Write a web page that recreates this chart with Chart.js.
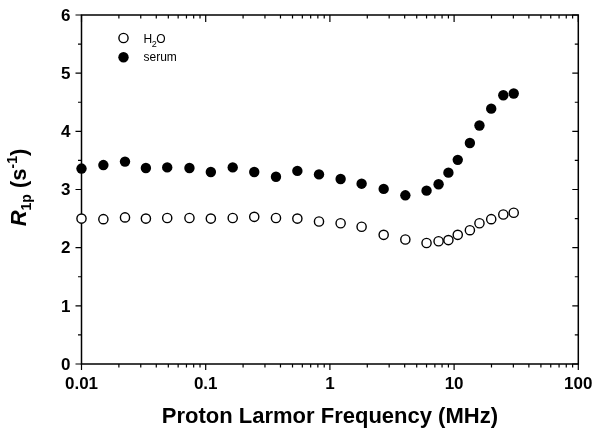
<!DOCTYPE html>
<html>
<head>
<meta charset="utf-8">
<script src="https://cdn.jsdelivr.net/npm/chart.js@4.4.1/dist/chart.umd.min.js"></script>
<style>
html,body{margin:0;padding:0;background:#fff;}
#wrap{width:602px;height:438px;position:relative;}
canvas{display:block;}
</style>
</head>
<body>
<div id="wrap"><canvas id="c" width="602" height="438"></canvas></div>
<script>
// ---- data ----
const frequencyMHz = [0.01, 0.015, 0.0224, 0.033, 0.049, 0.074, 0.11, 0.165, 0.246, 0.368, 0.547, 0.817, 1.22, 1.80, 2.71, 4.05, 6.0, 7.5, 9.0, 10.7, 13.4, 16.0, 19.9, 24.9, 30.2];
const h2oR1p   = [2.50, 2.49, 2.52, 2.50, 2.51, 2.51, 2.50, 2.51, 2.53, 2.51, 2.50, 2.45, 2.42, 2.36, 2.22, 2.14, 2.08, 2.11, 2.13, 2.22, 2.30, 2.42, 2.49, 2.57, 2.60];
const serumR1p = [3.36, 3.42, 3.48, 3.37, 3.38, 3.37, 3.30, 3.38, 3.30, 3.22, 3.32, 3.26, 3.18, 3.10, 3.01, 2.90, 2.98, 3.09, 3.29, 3.51, 3.80, 4.10, 4.39, 4.62, 4.65];

const xMajorTicks = [0.01, 0.1, 1, 10, 100];
const xTickLabels = ['0.01', '0.1', '1', '10', '100'];
const yMajorTicks = [0, 1, 2, 3, 4, 5, 6];
const yTickLabels = ['0', '1', '2', '3', '4', '5', '6'];
const yMinorTicks = [0.5, 1.5, 2.5, 3.5, 4.5, 5.5];
const seriesNames = ['H2O', 'serum'];

const FONT = '"Liberation Sans", Arial, Helvetica, sans-serif';

// minor log ticks 2..9 within each decade
const xMinorTicks = [];
for (let d = 0; d < xMajorTicks.length - 1; d++) {
  for (let m = 2; m <= 9; m++) xMinorTicks.push(xMajorTicks[d] * m);
}

const axesPlugin = {
  id: 'boxAxes',
  beforeDatasetsDraw(chart) {
    const {ctx, chartArea: a, scales: {x, y}} = chart;
    ctx.save();
    ctx.strokeStyle = '#000';
    ctx.fillStyle = '#000';
    ctx.lineWidth = 1.5;
    ctx.lineCap = 'square';
    // frame
    ctx.beginPath();
    ctx.moveTo(a.left, a.top); ctx.lineTo(a.right, a.top);
    ctx.lineTo(a.right, a.bottom); ctx.lineTo(a.left, a.bottom);
    ctx.closePath();
    ctx.stroke();

    ctx.lineWidth = 1.2;
    ctx.lineCap = 'butt';
    const MAJ = 6, MIN = 3.5;
    ctx.beginPath();
    // x ticks (bottom: outward/down, top: inward/down)
    xMajorTicks.forEach(v => {
      const px = x.getPixelForValue(v);
      ctx.moveTo(px, a.bottom); ctx.lineTo(px, a.bottom + MAJ);
      ctx.moveTo(px, a.top); ctx.lineTo(px, a.top + MAJ + 1);
    });
    xMinorTicks.forEach(v => {
      const px = x.getPixelForValue(v);
      ctx.moveTo(px, a.bottom); ctx.lineTo(px, a.bottom + MIN);
      ctx.moveTo(px, a.top); ctx.lineTo(px, a.top + MIN);
    });
    // y ticks (left: outward, right: inward -> both pointing left)
    yMajorTicks.forEach(v => {
      const py = y.getPixelForValue(v);
      ctx.moveTo(a.left, py); ctx.lineTo(a.left - MAJ, py);
      ctx.moveTo(a.right, py); ctx.lineTo(a.right - MAJ, py);
    });
    yMinorTicks.forEach(v => {
      const py = y.getPixelForValue(v);
      ctx.moveTo(a.left, py); ctx.lineTo(a.left - MIN, py);
      ctx.moveTo(a.right, py); ctx.lineTo(a.right - MIN, py);
    });
    ctx.stroke();

    // tick labels
    ctx.font = 'bold 17px ' + FONT;
    ctx.textAlign = 'center';
    ctx.textBaseline = 'top';
    xMajorTicks.forEach((v, i) => {
      ctx.fillText(xTickLabels[i], x.getPixelForValue(v), a.bottom + 12);
    });
    ctx.textAlign = 'right';
    ctx.textBaseline = 'middle';
    yMajorTicks.forEach((v, i) => {
      ctx.fillText(yTickLabels[i], a.left - 11, y.getPixelForValue(v) + 1);
    });

    // x title
    ctx.font = 'bold 22px ' + FONT;
    ctx.textAlign = 'center';
    ctx.textBaseline = 'alphabetic';
    ctx.fillText('Proton Larmor Frequency (MHz)', (a.left + a.right) / 2, 423);

    // y title with italic R, subscript and superscript
    const parts = [
      {t: 'R',   f: 'italic bold 22px ' + FONT, dy: 0},
      {t: '1p',  f: 'bold 14px ' + FONT, dy: 5},
      {t: ' (',  f: 'bold 22px ' + FONT, dy: 0},
      {t: 's',   f: 'bold 22px ' + FONT, dy: 0},
      {t: '-1',  f: 'bold 14px ' + FONT, dy: -9},
      {t: ')',   f: 'bold 22px ' + FONT, dy: 0}
    ];
    let total = 0;
    parts.forEach(p => { ctx.font = p.f; p.w = ctx.measureText(p.t).width; total += p.w; });
    ctx.translate(26, (a.top + a.bottom) / 2 - 2);
    ctx.rotate(-Math.PI / 2);
    ctx.textAlign = 'left';
    let cx = -total / 2;
    parts.forEach(p => { ctx.font = p.f; ctx.fillText(p.t, cx, p.dy); cx += p.w; });
    ctx.restore();
  },
  afterDatasetsDraw(chart) {
    const {ctx} = chart;
    ctx.save();
    // legend markers
    ctx.lineWidth = 1.4;
    ctx.strokeStyle = '#000';
    ctx.fillStyle = '#fff';
    ctx.beginPath(); ctx.arc(123.5, 38, 4.6, 0, Math.PI * 2); ctx.fill(); ctx.stroke();
    ctx.fillStyle = '#000';
    ctx.beginPath(); ctx.arc(123.5, 57.3, 5.2, 0, Math.PI * 2); ctx.fill();
    // legend texts
    ctx.textAlign = 'left';
    ctx.textBaseline = 'alphabetic';
    ctx.font = '12px ' + FONT;
    let tx = 143.5;
    ctx.fillText('H', tx, 42.5); tx += ctx.measureText('H').width;
    ctx.font = '9px ' + FONT;
    ctx.fillText('2', tx - 0.5, 46.5); tx += ctx.measureText('2').width - 1;
    ctx.font = '12px ' + FONT;
    ctx.fillText('O', tx, 42.5);
    ctx.fillText(seriesNames[1], 143.5, 61);
    ctx.restore();
  }
};

new Chart(document.getElementById('c').getContext('2d'), {
  type: 'scatter',
  data: {
    datasets: [
      {
        label: seriesNames[0],
        data: frequencyMHz.map((f, i) => ({x: f, y: h2oR1p[i]})),
        pointRadius: 4.6,
        pointBackgroundColor: '#ffffff',
        pointBorderColor: '#000000',
        pointBorderWidth: 1.4,
        showLine: false,
        clip: false
      },
      {
        label: seriesNames[1],
        data: frequencyMHz.map((f, i) => ({x: f, y: serumR1p[i]})),
        pointRadius: 5.2,
        pointBackgroundColor: '#000000',
        pointBorderColor: '#000000',
        pointBorderWidth: 0,
        showLine: false,
        clip: false
      }
    ]
  },
  options: {
    responsive: false,
    animation: false,
    devicePixelRatio: 1,
    layout: {padding: {left: 81.5, right: 23.7, top: 15, bottom: 74}},
    plugins: {legend: {display: false}, tooltip: {enabled: false}},
    scales: {
      x: {type: 'logarithmic', min: 0.01, max: 100, display: false},
      y: {type: 'linear', min: 0, max: 6, display: false}
    }
  },
  plugins: [axesPlugin]
});
</script>
</body>
</html>
